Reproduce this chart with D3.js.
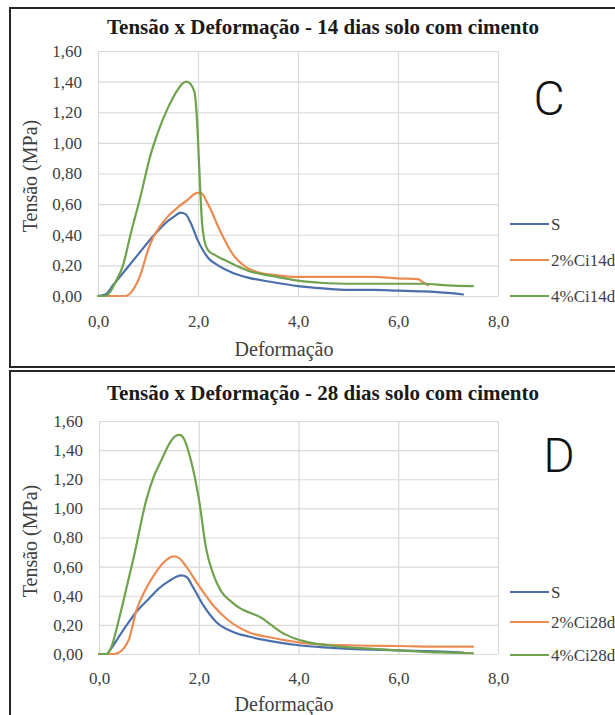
<!DOCTYPE html>
<html>
<head>
<meta charset="utf-8">
<script src="https://cdn.jsdelivr.net/npm/d3@7"></script>
<style>
  html, body { margin: 0; padding: 0; background: #fff; }
  svg { display: block; }
</style>
</head>
<body>
<svg id="chart" width="615" height="715"></svg>
<script>
// ---------- DATA ----------
const xTicks = [0, 2, 4, 6, 8];
const xTickLabels = ["0,0", "2,0", "4,0", "6,0", "8,0"];
const yTicks = [0, 0.2, 0.4, 0.6, 0.8, 1.0, 1.2, 1.4, 1.6];
const yTickLabels = ["0,00", "0,20", "0,40", "0,60", "0,80", "1,00", "1,20", "1,40", "1,60"];

const titles = ["Tensão x Deformação - 14 dias solo com cimento", "Tensão x Deformação - 28 dias solo com cimento"];
const panelLetters = ["C", "D"];
const seriesNames14 = ["S", "2%Ci14d", "4%Ci14d"];
const seriesNames28 = ["S", "2%Ci28d", "4%Ci28d"];

// 14 dias
const s14_x = [0, 0.15, 0.3, 0.5, 0.8, 1.1, 1.4, 1.55, 1.65, 1.75, 1.85, 2.0, 2.2, 2.4, 2.7, 3.0, 3.5, 4.0, 4.5, 5.0, 5.5, 6.0, 6.5, 7.0, 7.3];
const s14_y = [0, 0.01, 0.07, 0.15, 0.27, 0.39, 0.49, 0.525, 0.545, 0.535, 0.48, 0.36, 0.25, 0.2, 0.15, 0.12, 0.09, 0.065, 0.05, 0.04, 0.04, 0.035, 0.03, 0.02, 0.01];
const c2_14_x = [0, 0.3, 0.55, 0.7, 0.85, 1.0, 1.1, 1.25, 1.4, 1.6, 1.8, 1.95, 2.05, 2.2, 2.45, 2.7, 2.95, 3.2, 3.6, 4.0, 4.5, 5.0, 5.5, 6.0, 6.4, 6.5, 6.6];
const c2_14_y = [0, 0, 0, 0.04, 0.14, 0.3, 0.38, 0.46, 0.52, 0.58, 0.63, 0.67, 0.675, 0.6, 0.42, 0.27, 0.19, 0.155, 0.135, 0.125, 0.125, 0.125, 0.125, 0.115, 0.11, 0.09, 0.07];
const c4_14_x = [0, 0.15, 0.25, 0.35, 0.5, 0.65, 0.85, 1.05, 1.2, 1.4, 1.6, 1.7, 1.77, 1.85, 1.93, 1.98, 2.03, 2.08, 2.13, 2.2, 2.35, 2.5, 2.75, 3.0, 3.5, 4.0, 4.5, 5.0, 6.0, 6.5, 7.0, 7.5];
const c4_14_y = [0, 0, 0.03, 0.09, 0.2, 0.4, 0.65, 0.92, 1.07, 1.23, 1.35, 1.39, 1.4, 1.385, 1.33, 1.15, 0.8, 0.48, 0.36, 0.3, 0.265, 0.24, 0.2, 0.165, 0.13, 0.1, 0.085, 0.08, 0.08, 0.08, 0.07, 0.065];

// 28 dias
const s28_x = [0, 0.15, 0.25, 0.4, 0.6, 0.75, 1.0, 1.2, 1.4, 1.55, 1.65, 1.75, 1.9, 2.1, 2.35, 2.7, 3.0, 3.5, 4.0, 4.5, 5.0, 6.0, 7.0, 7.3];
const s28_y = [0, 0, 0.04, 0.12, 0.22, 0.29, 0.38, 0.45, 0.5, 0.53, 0.54, 0.53, 0.45, 0.33, 0.22, 0.15, 0.12, 0.085, 0.06, 0.045, 0.035, 0.025, 0.015, 0.01];
const c2_28_x = [0, 0.3, 0.4, 0.5, 0.6, 0.75, 0.9, 1.1, 1.3, 1.5, 1.6, 1.75, 2.0, 2.3, 2.6, 3.0, 3.5, 4.0, 4.5, 5.0, 6.0, 7.0, 7.5];
const c2_28_y = [0, 0, 0.01, 0.04, 0.1, 0.3, 0.42, 0.54, 0.63, 0.67, 0.66, 0.6, 0.47, 0.33, 0.23, 0.15, 0.11, 0.08, 0.065, 0.06, 0.055, 0.05, 0.05];
const c4_28_x = [0, 0.15, 0.25, 0.35, 0.5, 0.7, 0.95, 1.1, 1.25, 1.42, 1.55, 1.62, 1.7, 1.85, 2.0, 2.15, 2.3, 2.45, 2.65, 2.85, 3.05, 3.25, 3.45, 3.65, 3.9, 4.2, 4.6, 5.0, 5.5, 6.0, 6.5, 7.0, 7.5];
const c4_28_y = [0, 0, 0.05, 0.17, 0.38, 0.67, 1.06, 1.22, 1.33, 1.45, 1.5, 1.505, 1.48, 1.32, 1.07, 0.72, 0.54, 0.43, 0.36, 0.31, 0.28, 0.25, 0.2, 0.15, 0.11, 0.08, 0.06, 0.045, 0.035, 0.025, 0.015, 0.01, 0.005];

// ---------- STYLE / LAYOUT ----------
const colors = ["#4a6fab", "#ea8c52", "#6fa24d"];
const SERIF = '"Liberation Serif", Tinos, "Times New Roman", serif';

const panels = [
  { box: { x: 10, y: 8, h: 359 }, plot: { x0: 98, x1: 498, y0: 51, y1: 296 },
    titleY: 34, xTickY: 327, xTitleY: 356, yTitleCY: 176, letter: { x: 549, y: 115 },
    legendY: [224, 260, 296], title: titles[0], letterText: panelLetters[0], names: seriesNames14,
    series: [[s14_x, s14_y], [c2_14_x, c2_14_y], [c4_14_x, c4_14_y]] },
  { box: { x: 10, y: 371, h: 360 }, plot: { x0: 99, x1: 498, y0: 421, y1: 654 },
    titleY: 400, xTickY: 684, xTitleY: 711, yTitleCY: 541, letter: { x: 559, y: 472 },
    legendY: [592, 622, 655], title: titles[1], letterText: panelLetters[1], names: seriesNames28,
    series: [[s28_x, s28_y], [c2_28_x, c2_28_y], [c4_28_x, c4_28_y]] }
];

const svg = d3.select("#chart");

panels.forEach(p => {
  const g = svg.append("g");
  g.append("rect")
    .attr("x", p.box.x).attr("y", p.box.y)
    .attr("width", 640).attr("height", p.box.h)
    .attr("fill", "#fff").attr("stroke", "#262626").attr("stroke-width", 2);

  const x = d3.scaleLinear().domain([0, 8]).range([p.plot.x0, p.plot.x1]);
  const y = d3.scaleLinear().domain([0, 1.6]).range([p.plot.y1, p.plot.y0]);

  const yAxis = d3.axisLeft(y).tickValues(yTicks)
    .tickSize(-(p.plot.x1 - p.plot.x0)).tickPadding(16)
    .tickFormat((d, i) => yTickLabels[i]);
  const ya = g.append("g").attr("transform", `translate(${p.plot.x0},0)`).call(yAxis);
  ya.select(".domain").remove();
  ya.selectAll("line").attr("stroke", "#d9d9d9").attr("stroke-width", 1.2);
  ya.selectAll("text").style("font-family", SERIF).style("font-size", "17px").attr("fill", "#404040");

  const xAxis = d3.axisBottom(x).tickValues(xTicks)
    .tickSize(-(p.plot.y1 - p.plot.y0)).tickPadding(0)
    .tickFormat((d, i) => xTickLabels[i]);
  const xa = g.append("g").attr("transform", `translate(0,${p.plot.y1})`).call(xAxis);
  xa.select(".domain").remove();
  xa.selectAll("line").attr("stroke", "#d9d9d9").attr("stroke-width", 1.2);
  xa.selectAll("text").style("font-family", SERIF).style("font-size", "17px").attr("fill", "#404040")
    .attr("y", p.xTickY - p.plot.y1).attr("dy", 0);

  g.append("text").attr("x", 323).attr("y", p.titleY).attr("text-anchor", "middle")
    .style("font-family", SERIF).style("font-weight", "bold").style("font-size", "21px").attr("fill", "#1a1a1a")
    .text(p.title);

  g.append("text").attr("x", 284).attr("y", p.xTitleY).attr("text-anchor", "middle")
    .style("font-family", SERIF).style("font-size", "20px").attr("fill", "#404040").text("Deformação");
  g.append("text").attr("transform", `translate(37,${p.yTitleCY}) rotate(-90)`).attr("text-anchor", "middle")
    .style("font-family", SERIF).style("font-size", "20px").attr("fill", "#404040").text("Tensão (MPa)");

  g.append("text").attr("x", p.letter.x).attr("y", p.letter.y).attr("text-anchor", "middle")
    .style("font-family", "Roboto, 'Liberation Sans', sans-serif").style("font-weight", "300")
    .style("font-size", "48px").attr("fill", "#111").text(p.letterText);

  const line = d3.line().x(d => x(d[0])).y(d => y(d[1])).curve(d3.curveMonotoneX);
  p.series.forEach((s, i) => {
    const pts = s[0].map((xv, k) => [xv, s[1][k]]);
    g.append("path").datum(pts).attr("d", line)
      .attr("fill", "none").attr("stroke", colors[i]).attr("stroke-width", 2.2)
      .attr("stroke-linejoin", "round").attr("stroke-linecap", "round");
  });

  p.names.forEach((n, i) => {
    g.append("line").attr("x1", 510).attr("x2", 549).attr("y1", p.legendY[i]).attr("y2", p.legendY[i])
      .attr("stroke", colors[i]).attr("stroke-width", 2.2);
    g.append("text").attr("x", 551).attr("y", p.legendY[i]).attr("dy", "0.35em")
      .style("font-family", SERIF).style("font-size", "17px").attr("fill", "#404040").text(n);
  });
});
</script>
</body>
</html>
